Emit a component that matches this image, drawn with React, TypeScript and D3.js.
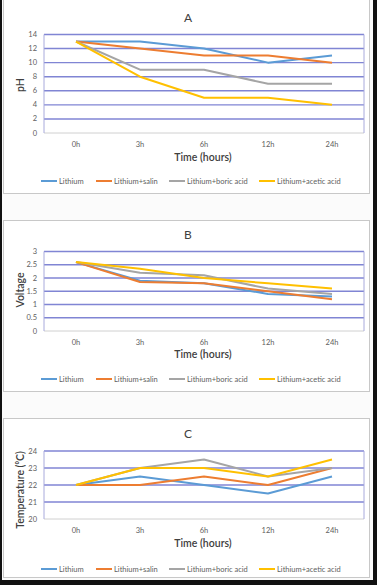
import React from "react";
import * as d3 from "d3";

const categories = ["0h", "3h", "6h", "12h", "24h"];
const seriesNames = ["Lithium", "Lithium+salin", "Lithium+boric acid", "Lithium+acetic acid"];
const seriesColors = ["#5B9BD5", "#ED7D31", "#A5A5A5", "#FFC000"];

const phLithium = [13, 13, 12, 10, 11];
const phSalin = [13, 12, 11, 11, 10];
const phBoric = [13, 9, 9, 7, 7];
const phAcetic = [13, 8, 5, 5, 4];

const vLithium = [2.6, 1.9, 1.8, 1.4, 1.3];
const vSalin = [2.6, 1.85, 1.8, 1.5, 1.2];
const vBoric = [2.6, 2.2, 2.1, 1.6, 1.4];
const vAcetic = [2.6, 2.35, 2.0, 1.8, 1.6];

const tLithium = [22, 22.5, 22, 21.5, 22.5];
const tSalin = [22, 22, 22.5, 22, 23];
const tBoric = [22, 23, 23.5, 22.5, 23];
const tAcetic = [22, 23, 23, 22.5, 23.5];

const phTicks = [0, 2, 4, 6, 8, 10, 12, 14];
const vTicks = [0, 0.5, 1, 1.5, 2, 2.5, 3];
const tTicks = [20, 21, 22, 23, 24];

const FONT = "Lato, 'Open Sans', 'Liberation Sans', sans-serif";

type PanelProps = {
  title: string;
  yTitle: string;
  series: number[][];
  ticks: number[];
  domain: [number, number];
  frameTop: number;
  frameBottom: number;
  titleY: number;
  plotTop: number;
  plotBottom: number;
  xLabelY: number;
  axisTitleY: number;
  legendY: number;
  yTitleY: number;
};

function Panel(p: PanelProps) {
  const left = 44;
  const right = 364;
  const x = d3.scaleBand<string>().domain(categories).range([left, right]);
  const y = d3.scaleLinear().domain(p.domain).range([p.plotBottom, p.plotTop]);
  const line = d3
    .line<number>()
    .x((_, i) => (x(categories[i]) as number) + x.bandwidth() / 2)
    .y((v) => y(v));
  const legendX = [41, 96, 169, 259];
  return (
    <g>
      <rect x={3.5} y={p.frameTop + 0.5} width={366} height={p.frameBottom - p.frameTop} fill="#ffffff" stroke="#c8c8c8" strokeWidth={1} />
      <text x={188} y={p.titleY + 4.5} textAnchor="middle" fontSize={12} fill="#404040" fontFamily={FONT}>
        {p.title}
      </text>
      {p.ticks.map((t, i) => (
        <line
          key={"g" + i}
          x1={left}
          x2={right}
          y1={y(t)}
          y2={y(t)}
          stroke={i === 0 ? "#d0d0d0" : "#8085d4"}
          strokeWidth={i === 0 ? 1 : 1.4}
        />
      ))}
      <line x1={left} x2={left} y1={p.plotTop} y2={p.plotBottom} stroke="#a8aadc" strokeWidth={1} />
      <line x1={right} x2={right} y1={p.plotTop} y2={p.plotBottom} stroke="#a8aadc" strokeWidth={1} />
      {p.ticks.map((t, i) => (
        <text key={"t" + i} x={37} y={y(t) + 2.5} textAnchor="end" fontSize={7.5} fill="#606060" fontFamily={FONT}>
          {String(t)}
        </text>
      ))}
      {categories.map((c) => (
        <text
          key={c}
          x={(x(c) as number) + x.bandwidth() / 2}
          y={p.xLabelY + 2.5}
          textAnchor="middle"
          fontSize={7.5}
          fill="#606060"
          fontFamily={FONT}
        >
          {c}
        </text>
      ))}
      {p.series.map((s, i) => (
        <path key={"s" + i} d={line(s) || ""} fill="none" stroke={seriesColors[i]} strokeWidth={2} strokeLinejoin="round" />
      ))}
      <text x={203} y={p.axisTitleY + 3.5} textAnchor="middle" fontSize={10.5} fontWeight={600} fill="#404040" fontFamily={FONT}>
        Time (hours)
      </text>
      <text
        transform={`translate(${20},${p.yTitleY}) rotate(-90)`}
        textAnchor="middle"
        fontSize={10.5}
        fontWeight={600}
        fill="#404040"
        fontFamily={FONT}
        dy={3.5}
      >
        {p.yTitle}
      </text>
      {seriesNames.map((n, i) => (
        <g key={"l" + i}>
          <line x1={legendX[i]} x2={legendX[i] + 16} y1={p.legendY} y2={p.legendY} stroke={seriesColors[i]} strokeWidth={2} />
          <text x={legendX[i] + 18} y={p.legendY + 2.5} fontSize={7.5} fill="#606060" fontFamily={FONT}>
            {n}
          </text>
        </g>
      ))}
    </g>
  );
}

export default function App() {
  return (
    <svg
      width={377}
      height={585}
      style={{ position: "absolute", left: 0, top: 0, background: "#ffffff" }}
    >
      <rect x={0} y={0} width={377} height={585} fill="#fbfbfb" />
      <Panel
        title="A"
        yTitle="pH"
        series={[phLithium, phSalin, phBoric, phAcetic]}
        ticks={phTicks}
        domain={[0, 14]}
        frameTop={-1}
        frameBottom={193}
        titleY={17}
        plotTop={34.5}
        plotBottom={133}
        xLabelY={144}
        axisTitleY={157}
        legendY={181}
        yTitleY={85}
      />
      <Panel
        title="B"
        yTitle="Voltage"
        series={[vLithium, vSalin, vBoric, vAcetic]}
        ticks={vTicks}
        domain={[0, 3]}
        frameTop={220}
        frameBottom={391}
        titleY={234}
        plotTop={251.5}
        plotBottom={331}
        xLabelY={342}
        axisTitleY={354}
        legendY={379}
        yTitleY={290}
      />
      <Panel
        title="C"
        yTitle="Temperature (⁰C)"
        series={[tLithium, tSalin, tBoric, tAcetic]}
        ticks={tTicks}
        domain={[20, 24]}
        frameTop={418}
        frameBottom={577}
        titleY={433}
        plotTop={451}
        plotBottom={519}
        xLabelY={530}
        axisTitleY={543}
        legendY={569}
        yTitleY={490}
      />
      <rect x={0} y={0} width={2} height={585} fill="#111111" />
      <rect x={373} y={0} width={4} height={585} fill="#111111" />
      <rect x={0} y={580} width={377} height={5} fill="#111111" />
    </svg>
  );
}
